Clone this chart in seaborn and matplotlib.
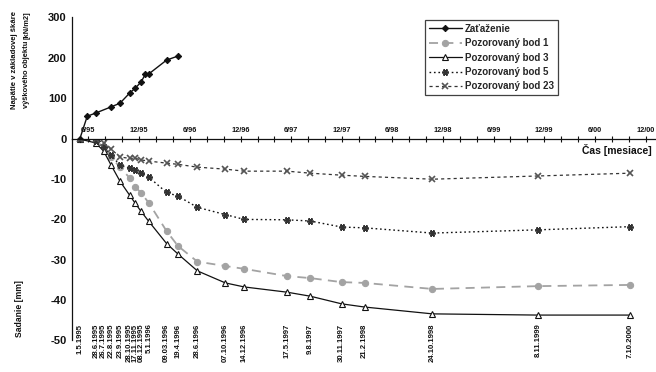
import matplotlib
matplotlib.use("Agg")
import matplotlib.pyplot as plt
import matplotlib.dates as mdates
import seaborn as sns
import pandas as pd

sns.set_style("white")
plt.rcParams["font.family"] = ["Liberation Sans", "DejaVu Sans"]
plt.rcParams["axes.unicode_minus"] = False

# measurement dates (day.month.year)
dates = ["1.5.1995", "28.6.1995", "26.7.1995", "22.8.1995", "23.9.1995",
         "28.10.1995", "17.11.1995", "08.12.1995", "5.1.1996", "09.03.1996",
         "19.4.1996", "28.6.1996", "07.10.1996", "14.12.1996", "17.5.1997",
         "9.8.1997", "30.11.1997", "21.2.1998", "24.10.1998", "8.11.1999",
         "7.10.2000"]

# settlement of observed points [mm]
bod_1 = [0, -0.5, -2.0, -4.5, -7.0, -9.7, -11.9, -13.4, -15.9, -22.9, -26.6,
         -30.5, -31.6, -32.3, -34.1, -34.6, -35.6, -35.8, -37.3, -36.6, -36.3]
bod_3 = [0, -1.0, -3.0, -6.5, -10.5, -14.0, -16.0, -18.0, -20.5, -26.0, -28.6,
         -32.8, -35.8, -36.8, -38.1, -39.1, -41.0, -41.8, -43.5, -43.8, -43.8]
bod_5 = [0, -0.5, -2.0, -4.0, -6.5, -7.2, -7.8, -8.5, -9.5, -13.3, -14.2,
         -17.0, -18.8, -20.0, -20.1, -20.4, -21.9, -22.1, -23.4, -22.6, -21.8]
bod_23 = [0, 0, -1.0, -2.5, -4.5, -4.8, -4.8, -5.2, -5.5, -6.0, -6.3,
          -7.0, -7.5, -8.0, -8.0, -8.5, -9.0, -9.3, -10.0, -9.2, -8.5]

# foundation contact stress [kN/m2]
load_dates = ["1.5.1995", "28.5.1995", "28.6.1995", "22.8.1995", "23.9.1995",
              "28.10.1995", "17.11.1995", "08.12.1995", "24.12.1995",
              "5.1.1996", "09.03.1996", "19.4.1996"]
load = [0, 56, 64, 79, 88, 113, 125, 140, 160, 160, 194, 204]

t = pd.to_datetime(dates, dayfirst=True)
t_load = pd.to_datetime(load_dates, dayfirst=True)

W, H = 656, 372
fig = plt.figure(figsize=(W / 100, H / 100), dpi=100)
x0, x1 = 72, 656
y_top, y_zero, y_bot = 17, 139, 340
ax_top = fig.add_axes([x0 / W, 1 - y_zero / H, (x1 - x0) / W, (y_zero - y_top) / H])
ax = fig.add_axes([x0 / W, 1 - y_bot / H, (x1 - x0) / W, (y_bot - y_zero) / H],
                  sharex=ax_top)
for a in (ax_top, ax):
    a.set_facecolor("none")

ink = "#111111"

sns.lineplot(x=t_load, y=load, ax=ax_top, color=ink, lw=1.0, marker="D",
             markersize=3.2, markeredgecolor=ink, label="Zaťaženie")
sns.lineplot(x=t, y=bod_1, ax=ax, color="#a3a3a3", lw=1.3,
             linestyle=(0, (5, 3.5)), marker="o", markersize=4.5,
             markeredgecolor="#a3a3a3", label="Pozorovaný bod 1")
sns.lineplot(x=t, y=bod_3, ax=ax, color=ink, lw=0.9, marker="^",
             markersize=4.2, markerfacecolor="white", markeredgecolor=ink,
             markeredgewidth=0.8, label="Pozorovaný bod 3")
sns.lineplot(x=t, y=bod_5, ax=ax, color=ink, lw=1.0,
             linestyle=(0, (1.2, 2.0)), marker=(6, 2, 90), markersize=5,
             markeredgecolor="#333333", markeredgewidth=1.2,
             label="Pozorovaný bod 5")
sns.lineplot(x=t, y=bod_23, ax=ax, color="#333333", lw=0.9,
             linestyle=(0, (2.5, 2.5)), marker="x", markersize=4,
             markeredgecolor="#555555", markeredgewidth=1.2,
             label="Pozorovaný bod 23")

# x axis: months, labelled in June and December
ax.set_xlim(pd.Timestamp("1995-04-03"), pd.Timestamp("2001-01-07"))
ax.xaxis.set_major_locator(mdates.MonthLocator(bymonth=[6, 12]))
ax.xaxis.set_minor_locator(mdates.MonthLocator(bymonth=[2, 4, 8, 10]))
ax.xaxis.set_major_formatter(
    plt.FuncFormatter(lambda v, p: "%d/%s" % (mdates.num2date(v).month,
                                              mdates.num2date(v).strftime("%y"))))
ax.xaxis.tick_top()
ax.tick_params(axis="x", which="both", direction="inout", top=True,
               bottom=False, length=5, width=0.8, color=ink, pad=1,
               labelsize=5.3, labelcolor=ink)
for lab in ax.get_xticklabels():
    lab.set_fontweight("bold")
ax_top.tick_params(axis="x", which="both", bottom=False, top=False,
                   labelbottom=False, labeltop=False)

ax.set_ylim(-50, 0)
ax.set_yticks([-50, -40, -30, -20, -10, 0])
ax_top.set_ylim(0, 300)
ax_top.set_yticks([100, 200, 300])
for a in (ax_top, ax):
    a.tick_params(axis="y", direction="inout", length=5, width=0.8,
                  color=ink, labelsize=8, labelcolor=ink, pad=1.5)
    for lab in a.get_yticklabels():
        lab.set_fontweight("bold")
    a.set_xlabel("")
    a.set_ylabel("")
    if a.legend_:
        a.legend_.remove()

for s in ("right", "bottom"):
    ax.spines[s].set_visible(False)
for s in ("right", "top", "bottom"):
    ax_top.spines[s].set_visible(False)
for a in (ax_top, ax):
    for s in a.spines.values():
        s.set_color(ink)
        s.set_linewidth(0.9)

# measurement dates written under the curves
for d, lab in zip(t, dates):
    ax.text(d, -45.9, lab, rotation=90, ha="center", va="top", fontsize=5.6,
            fontweight="bold", color=ink, clip_on=False)

# axis titles
fig.text(14 / W, 1 - 60 / H, "Napätie v základovej škáre", rotation=90,
         ha="center", va="center", fontsize=5.6, fontweight="bold", color=ink)
fig.text(27 / W, 1 - 108 / H, "výškového objektu", rotation=90,
         ha="center", va="bottom", fontsize=5.4, fontweight="bold", color=ink)
fig.text(27 / W, 1 - 11 / H, "[kN/m2]", rotation=90,
         ha="center", va="top", fontsize=5.4, fontweight="bold", color=ink)
fig.text(20 / W, 1 - 309 / H, "Sadanie [mm]", rotation=90,
         ha="center", va="center", fontsize=6.2, fontweight="bold", color=ink)
fig.text(652 / W, 1 - 150 / H, "Čas [mesiace]", ha="right", va="center",
         fontsize=7.5, fontweight="bold", color=ink)

handles = ax_top.get_lines()[:1] + ax.get_lines()[:4]
labels = ["Zaťaženie", "Pozorovaný bod 1", "Pozorovaný bod 3",
          "Pozorovaný bod 5", "Pozorovaný bod 23"]
leg = fig.legend(handles, labels, loc="upper left",
                 bbox_to_anchor=(425 / W, 1 - 20 / H), borderaxespad=0,
                 frameon=True, fancybox=False, handlelength=3.4,
                 handletextpad=0.3, labelspacing=0.45, borderpad=0.4,
                 prop={"size": 7, "weight": "bold"})
leg.get_frame().set_edgecolor(ink)
leg.get_frame().set_linewidth(0.9)

fig.savefig("out.png", dpi=100, facecolor="white")
